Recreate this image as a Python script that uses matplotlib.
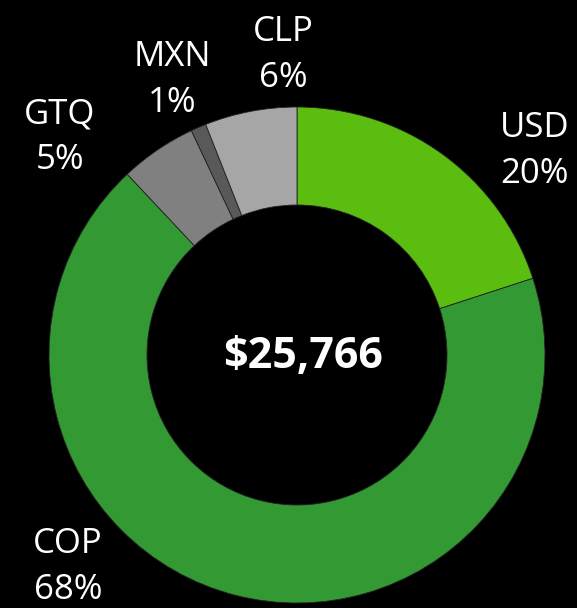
import matplotlib.pyplot as plt

currencies = ["USD", "COP", "GTQ", "MXN", "CLP"]
shares = [20, 68, 5, 1, 6]
colors = ["#5bbd0f", "#339933", "#808080", "#595959", "#a6a6a6"]
total_label = "$25,766"

W, H = 577, 608
fig = plt.figure(figsize=(W / 100, H / 100), dpi=100)
fig.patch.set_facecolor("black")
ax = fig.add_axes([0, 0, 1, 1])
ax.set_facecolor("black")

ax.pie(shares, colors=colors, startangle=90, counterclock=False,
       center=(297, H - 355), radius=248, frame=True,
       wedgeprops=dict(width=98, edgecolor="#222222", linewidth=0.6))
ax.set_xlim(0, W)
ax.set_ylim(0, H)
ax.axis("off")

# label spots in pixel coords (x, y from top)
spots = {"USD": (535, 151), "COP": (68, 567), "GTQ": (60, 137),
         "MXN": (172, 80), "CLP": (283, 55)}
for name, val in zip(currencies, shares):
    x, y = spots[name]
    ax.text(x, H - y, f"{name}\n{val}%", color="white", fontsize=25,
            family="Open Sans", ha="center", va="center", linespacing=1.45)

ax.text(303, H - 357, total_label, color="white", fontsize=31,
        family="Open Sans", weight="bold", ha="center", va="center")

fig.savefig("out.png", dpi=100, facecolor="black")
